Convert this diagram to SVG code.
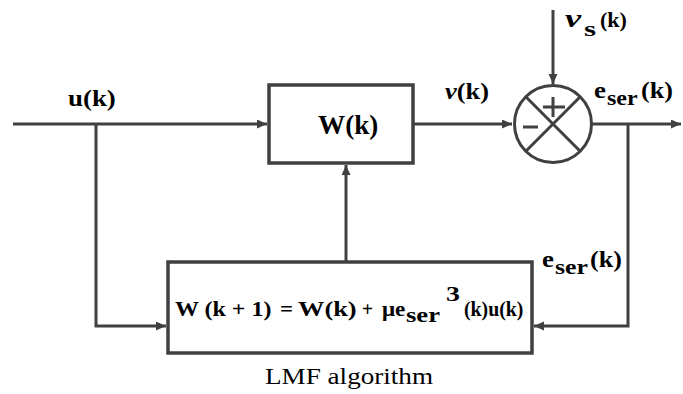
<svg xmlns="http://www.w3.org/2000/svg" width="683" height="394" viewBox="0 0 683 394">
<style>
.ln{fill:none;stroke:#404040;stroke-width:3;stroke-linejoin:miter}
.bx{fill:#fff;stroke:#404040;stroke-width:3.5}
text{font-family:'Liberation Serif','Times New Roman',serif;fill:#000;font-weight:bold}
.t{font-size:24px}
.w{font-size:28px}
.s{font-size:20px}
.f{font-size:22px}
.i{font-style:italic}
.cap{font-size:23px;font-weight:normal}
</style>
<defs>
<marker id="ar" markerUnits="userSpaceOnUse" markerWidth="12" markerHeight="10" refX="10" refY="4.5" orient="auto">
<path d="M0,0 L10,4.5 L0,9 z" fill="#404040"/>
</marker>
</defs>
<g id="connectors">
<path class="ln" d="M13,124 H267" marker-end="url(#ar)"/>
<path class="ln" d="M96,124 V326 H166" marker-end="url(#ar)"/>
<path class="ln" d="M413,124 H512" marker-end="url(#ar)"/>
<path class="ln" d="M553,10 V84" marker-end="url(#ar)"/>
<path class="ln" d="M592,124 H681" marker-end="url(#ar)"/>
<path class="ln" d="M628,124 V326 H534" marker-end="url(#ar)"/>
<path class="ln" d="M346,262 V165" marker-end="url(#ar)"/>
</g>
<g id="W">
<rect class="bx" x="269" y="85" width="144" height="78"/>
<text class="w" transform="translate(318,134) scale(0.97,1)">W(k)</text>
</g>
<g id="sum">
<circle cx="553" cy="124" r="38.5" fill="#fff" stroke="#404040" stroke-width="3"/>
<path class="ln" d="M525.8,96.8 L580.2,151.2 M580.2,96.8 L525.8,151.2"/>
<path class="ln" d="M543,107 H565 M553,97 V117 M523,127 H538"/>
</g>
<g id="LMF">
<rect class="bx" x="168" y="262" width="364" height="91"/>
<text class="f" transform="translate(175,316) scale(1.09,1)">W (k + 1)</text>
<text class="f" transform="translate(280,316) scale(1.04,1)">=</text>
<text class="f" transform="translate(298,316) scale(1.2,1)">W(k)</text>
<text class="f" transform="translate(362,316) scale(0.88,1)">+</text>
<text class="f" transform="translate(382,316) scale(1.05,1)">μe</text>
<text class="s" transform="translate(406,322) scale(1.33,1)">ser</text>
<text class="f" transform="translate(446,301) scale(1.27,1)">3</text>
<text class="f" transform="translate(464,316) scale(0.9,1)">(k)u(k)</text>
<text class="cap" transform="translate(265,384) scale(1.18,1)">LMF algorithm</text>
</g>
<g id="labels">
<text class="t" transform="translate(68,106) scale(1.12,1)">u(k)</text>
<text class="t" transform="translate(445,99) scale(1.1,1)"><tspan class="i">v</tspan>(k)</text>
<text class="t i" transform="translate(565,27) scale(1.4,1)" style="font-size:26px">v</text>
<text class="s" transform="translate(584,36) scale(1.4,1)" style="font-size:22px">s</text>
<text class="t" transform="translate(600,27)" style="font-size:22px">(k)</text>
<text class="t" transform="translate(594,98) scale(1.12,1)">e</text>
<text class="s" transform="translate(607,105) scale(1.2,1)">ser</text>
<text class="t" transform="translate(641,98) scale(1.09,1)">(k)</text>
<text class="t" transform="translate(542,267) scale(1.12,1)">e</text>
<text class="s" transform="translate(555,274) scale(1.29,1)">ser</text>
<text class="t" transform="translate(590,267) scale(1.09,1)">(k)</text>
</g>
</svg>
